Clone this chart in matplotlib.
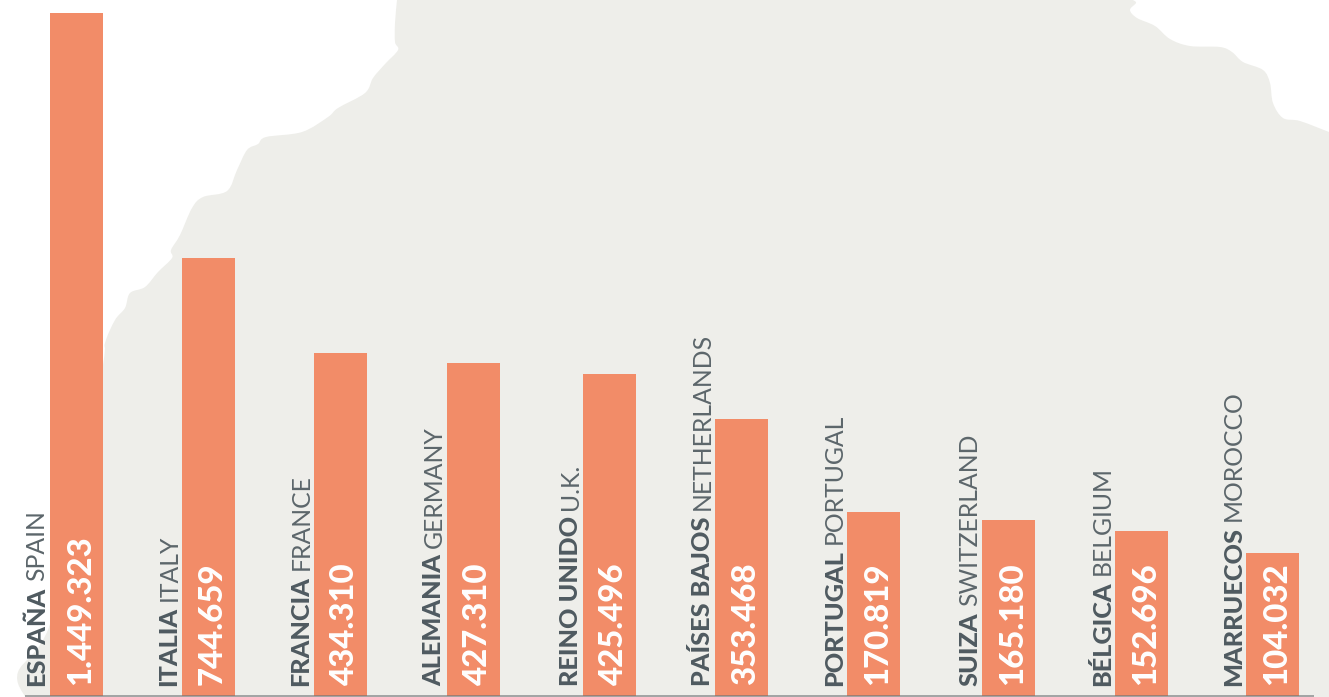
import matplotlib
matplotlib.use("Agg")
import matplotlib.pyplot as plt
import numpy as np
from matplotlib.path import Path
from matplotlib.patches import PathPatch

W, H = 1329, 697
BASE = 1  # baseline height above the bottom edge, px

spanish = ["ESPAÑA", "ITALIA", "FRANCIA", "ALEMANIA", "REINO UNIDO", "PAÍSES BAJOS",
           "PORTUGAL", "SUIZA", "BÉLGICA", "MARRUECOS"]
english = ["SPAIN", "ITALY", "FRANCE", "GERMANY", "U.K.", "NETHERLANDS",
           "PORTUGAL", "SWITZERLAND", "BELGIUM", "MOROCCO"]
value_labels = ["1.449.323", "744.659", "434.310", "427.310", "425.496", "353.468",
                "170.819", "165.180", "152.696", "104.032"]
# Drawn bar lengths (the original is not to scale)
bar_lengths = [683, 438, 343, 333, 322, 277, 184, 176, 165, 143]
bar_lefts = [49.5, 181.5, 313.5, 446.5, 582.5, 715, 847, 982, 1115, 1246]
BAR_W = 53

# Silhouette outline of the background map, image pixels (x, y from top)
map_outline = [(25, 697), (18, 672), (49, 627), (80, 500), (103, 365), (105, 343), (115, 320),
               (125, 308), (130, 293), (145, 287), (158, 272), (172, 258), (171, 250),
               (180, 235), (192, 208), (203, 197), (227, 191), (237, 170), (247, 150), (258, 144),
               (266, 137), (302, 132), (328, 117), (338, 108), (365, 93), (373, 78),
               (385, 64), (398, 50), (395, 42), (395, 23), (397, 0)]
map_outline_right = [(1133, 0), (1136, 3), (1130, 10), (1137, 18), (1155, 26), (1170, 39),
                     (1190, 46), (1220, 47), (1232, 52), (1243, 62), (1263, 70), (1270, 83),
                     (1273, 103), (1283, 118), (1300, 121), (1329, 132)]


def smooth(points):
    """Catmull-Rom curve through the points, as Bezier path pieces."""
    p = np.array(points, float)
    p[:, 1] = H - p[:, 1]
    q = np.vstack([p[0], p, p[-1]])
    verts, codes = [], []
    for i in range(1, len(q) - 2):
        verts += [q[i] + (q[i + 1] - q[i - 1]) / 6, q[i + 1] - (q[i + 2] - q[i]) / 6, q[i + 1]]
        codes += [Path.CURVE4] * 3
    return p[0], verts, codes


fig = plt.figure(figsize=(W / 100, H / 100), dpi=100, facecolor="white")
ax = fig.add_axes([0, 0, 1, 1])
ax.set_xlim(0, W)
ax.set_ylim(0, H)
ax.axis("off")

start, v1, c1 = smooth(map_outline)
s2, v2, c2 = smooth(map_outline_right)
verts = [start] + v1 + [s2] + v2 + [(W, 0), (25, 0), start]
codes = [Path.MOVETO] + c1 + [Path.LINETO] + c2 + [Path.LINETO, Path.LINETO, Path.CLOSEPOLY]
ax.add_patch(PathPatch(Path(verts, codes), facecolor="#eeeeea", edgecolor="none", zorder=1))

ax.bar(bar_lefts, bar_lengths, width=BAR_W, bottom=BASE, align="edge", color="#f28c68", zorder=2)
ax.plot([25, 1314], [BASE, BASE], color="#6f7275", alpha=0.7, lw=1.2, zorder=3, solid_capstyle="butt")

renderer = fig.canvas.get_renderer()
DARK = "#4f5a60"
for left, es, en, val in zip(bar_lefts, spanish, english, value_labels):
    t = ax.text(left - 5, 11, es, rotation=90, rotation_mode="anchor", ha="left", va="baseline",
                family="Lato", weight="black", fontsize=18.2, color=DARK, zorder=4)
    top = t.get_window_extent(renderer).y1
    ax.text(left - 5, top + 6, en, rotation=90, rotation_mode="anchor", ha="left", va="baseline",
            family="Lato", weight="normal", fontsize=17.8, color="#5c666b", zorder=4)
    ax.text(left + 40.5, 12, val, rotation=90, rotation_mode="anchor", ha="left", va="baseline",
            family="Lato", weight="black", fontsize=23.8, color="white", zorder=4)

fig.savefig("out.png", dpi=100, facecolor="white")
